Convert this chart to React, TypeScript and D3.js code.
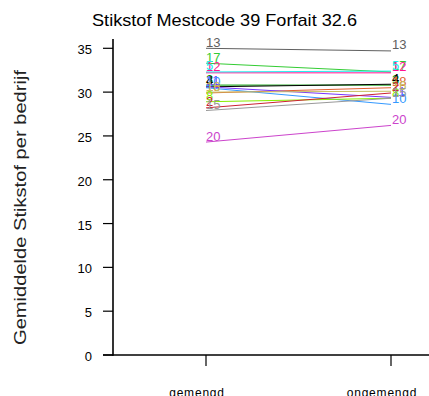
import React from "react";
import * as d3 from "d3";

const title = "Stikstof Mestcode 39 Forfait 32.6";
const yLabel = "Gemiddelde Stikstof per bedrijf";
const categories = ["gemengd", "ongemengd"];
const yTicks = [0, 5, 10, 15, 20, 25, 30, 35];

const ids = ["13", "17", "12", "5", "3", "4", "18", "11", "10", "16", "8", "2", "15", "20"];
const gemengd = [35.0, 33.3, 32.2, 32.3, 30.8, 30.6, 29.9, 30.6, 30.5, 30.0, 28.9, 28.2, 27.9, 24.3];
const ongemengd = [34.7, 32.3, 32.2, 32.4, 30.8, 30.9, 30.5, 29.4, 28.6, 30.1, 29.3, 29.9, 29.3, 26.2];
const colors = ["#606060", "#33cc33", "#ff1493", "#22eeee", "#009900", "#000000", "#e06030", "#7733ff", "#3399ff", "#c8c060", "#88ee00", "#cc2233", "#999999", "#cc44cc"];

export default function App() {
  const W = 429, H = 396;
  const y = d3.scaleLinear().domain([0, 35]).range([355, 48.3]);
  const x = d3.scalePoint().domain(categories).range([206, 391]);
  const font = "Liberation Sans, Arial, sans-serif";
  return (
    <svg width={W} height={H} style={{ position: "absolute", left: 0, top: 0, background: "#fff" }} fontFamily={font}>
      <text x={92} y={26} fontSize={17} textLength={265} lengthAdjust="spacingAndGlyphs">{title}</text>
      <text transform={`translate(26,345) rotate(-90)`} fontSize={16} textLength={275} lengthAdjust="spacingAndGlyphs" fill="#222">{yLabel}</text>
      <line x1={113} x2={113} y1={39} y2={355.8} stroke="#000" strokeWidth={1.6} />
      <line x1={103} x2={429} y1={355} y2={355} stroke="#000" strokeWidth={1.6} />
      {yTicks.map((t) => (
        <g key={t}>
          <line x1={103} x2={113} y1={y(t)} y2={y(t)} stroke="#000" strokeWidth={1.2} />
          <text x={92} y={y(t) + 6} textAnchor="end" fontSize={13}>{t}</text>
        </g>
      ))}
      {categories.map((c) => (
        <g key={c}>
          <line x1={x(c)!} x2={x(c)!} y1={355} y2={366} stroke="#000" strokeWidth={1.2} />
          <text x={x(c)! - 9} y={396.5} textAnchor="middle" fontSize={12} letterSpacing={0.8}>{c}</text>
        </g>
      ))}
      {ids.map((id, i) => (
        <g key={id}>
          <line x1={x("gemengd")!} x2={x("ongemengd")!} y1={y(gemengd[i])} y2={y(ongemengd[i])} stroke={colors[i]} strokeWidth={1} />
          <text x={x("gemengd")!} y={y(gemengd[i]) - 1.5} fontSize={13} fill={colors[i]}>{id}</text>
          <text x={x("ongemengd")! + 1} y={y(ongemengd[i]) - 1.5} fontSize={13} fill={colors[i]}>{id}</text>
        </g>
      ))}
    </svg>
  );
}
